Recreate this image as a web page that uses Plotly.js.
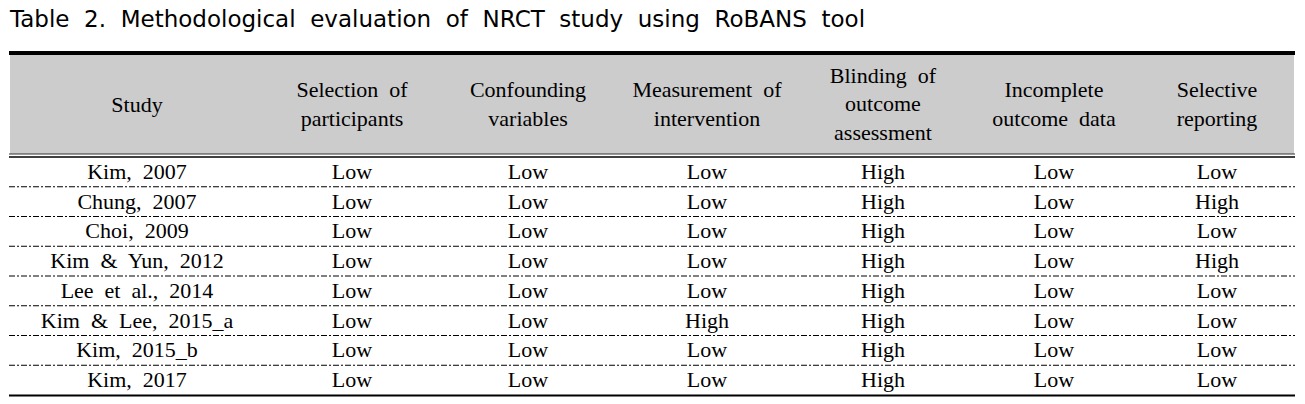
<!DOCTYPE html>
<html>
<head>
<meta charset="utf-8">
<script src="https://cdn.plot.ly/plotly-3.0.1.min.js"></script>
<style>html,body{margin:0;padding:0;background:#fff;}#chart{width:1305px;height:404px;}</style>
</head>
<body>
<div id="chart"></div>
<script>
// ---- data ----
const titleText = "Table\u00a0 2.\u00a0 Methodological\u00a0 evaluation\u00a0 of\u00a0 NRCT\u00a0 study\u00a0 using\u00a0 RoBANS\u00a0 tool";
const headers = [
  "Study",
  "Selection\u00a0 of<br>participants",
  "Confounding<br>variables",
  "Measurement\u00a0 of<br>intervention",
  "Blinding\u00a0 of<br>outcome<br>assessment",
  "Incomplete<br>outcome\u00a0 data",
  "Selective<br>reporting"
];
const studies = [
  "Kim,\u00a0 2007",
  "Chung,\u00a0 2007",
  "Choi,\u00a0 2009",
  "Kim\u00a0 &\u00a0 Yun,\u00a0 2012",
  "Lee\u00a0 et\u00a0 al.,\u00a0 2014",
  "Kim\u00a0 &\u00a0 Lee,\u00a0 2015_a",
  "Kim,\u00a0 2015_b",
  "Kim,\u00a0 2017"
];
const selectionOfParticipants = ["Low","Low","Low","Low","Low","Low","Low","Low"];
const confoundingVariables    = ["Low","Low","Low","Low","Low","Low","Low","Low"];
const measurementOfIntervention = ["Low","Low","Low","Low","Low","High","Low","Low"];
const blindingOfOutcome       = ["High","High","High","High","High","High","High","High"];
const incompleteOutcomeData   = ["Low","Low","Low","Low","Low","Low","Low","Low"];
const selectiveReporting      = ["Low","High","Low","High","Low","Low","Low","Low"];

// ---- layout geometry (pixel-like axis units) ----
const W = 1305, H = 404;
const colCenters = [137, 352, 528, 707, 883, 1054, 1217];
const tableLeft = 9, tableRight = 1295;
const thickTop = 51, thickBottom = 55;
const headerBottom = 154;
const bodyTop = 157;
const rowH = 29.75;
const serif = "'Liberation Serif', 'DejaVu Serif', serif";

const columns = [studies, selectionOfParticipants, confoundingVariables,
  measurementOfIntervention, blindingOfOutcome, incompleteOutcomeData, selectiveReporting];

const rowY = studies.map((_, i) => bodyTop + rowH * (i + 0.5) + 1.5);
const headerY = (thickBottom + headerBottom) / 2 + 1.5;

const traces = [];
traces.push({
  type: "scatter", mode: "text",
  x: colCenters, y: colCenters.map(() => headerY),
  text: headers, textposition: "middle center",
  textfont: {family: serif, size: 22, color: "#000"},
  hoverinfo: "skip", showlegend: false, cliponaxis: false
});
columns.forEach((col, c) => {
  traces.push({
    type: "scatter", mode: "text",
    x: col.map(() => colCenters[c]), y: rowY,
    text: col, textposition: "middle center",
    textfont: {family: serif, size: 22, color: "#000"},
    hoverinfo: "skip", showlegend: false, cliponaxis: false
  });
});

const shapes = [];
shapes.push({type: "rect", xref: "x", yref: "y", x0: tableLeft + 1, x1: tableRight - 1,
  y0: thickBottom, y1: headerBottom, fillcolor: "#cccccc", line: {width: 0}, layer: "below"});
shapes.push({type: "rect", xref: "x", yref: "y", x0: tableLeft, x1: tableRight,
  y0: thickTop, y1: thickBottom, fillcolor: "#000", line: {width: 0}});
shapes.push({type: "line", xref: "x", yref: "y", x0: tableLeft, x1: tableRight,
  y0: headerBottom, y1: headerBottom, line: {color: "#333", width: 1.2}});
shapes.push({type: "line", xref: "x", yref: "y", x0: tableLeft, x1: tableRight,
  y0: bodyTop, y1: bodyTop, line: {color: "#000", width: 1.5}});
for (let i = 1; i < studies.length; i++) {
  const y = bodyTop + rowH * i;
  shapes.push({type: "line", xref: "x", yref: "y", x0: tableLeft, x1: tableRight,
    y0: y, y1: y, line: {color: "#000", width: 1, dash: "6px,2px,2px,2px"}});
}
const bottomY = bodyTop + rowH * studies.length + 0.5;
shapes.push({type: "line", xref: "x", yref: "y", x0: tableLeft, x1: tableRight,
  y0: bottomY, y1: bottomY, line: {color: "#000", width: 1.8}});

const layout = {
  width: W, height: H,
  margin: {l: 0, r: 0, t: 0, b: 0, pad: 0},
  paper_bgcolor: "#fff", plot_bgcolor: "#fff",
  font: {family: serif, size: 22, color: "#000"},
  showlegend: false,
  title: {
    text: titleText,
    font: {family: "DejaVu Sans", size: 23, color: "#000"},
    x: 10 / W, xanchor: "left", xref: "paper",
    y: 1 - 11 / H, yanchor: "top", yref: "container"
  },
  xaxis: {range: [0, W], visible: false, fixedrange: true},
  yaxis: {range: [H, 0], visible: false, fixedrange: true},
  shapes: shapes
};

Plotly.newPlot("chart", traces, layout, {staticPlot: true, displayModeBar: false});
</script>
</body>
</html>
